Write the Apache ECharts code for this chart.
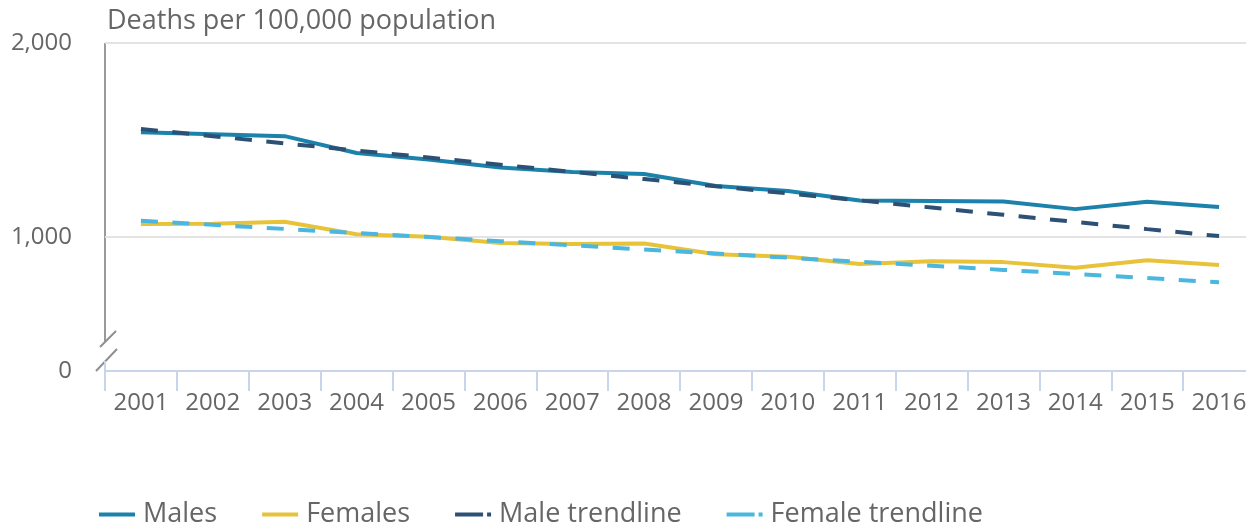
<!DOCTYPE html>
<html>
<head>
<meta charset="utf-8">
<script src="https://cdn.jsdelivr.net/npm/echarts@6/dist/echarts.min.js"></script>
<style>
  html, body { margin: 0; padding: 0; background: #fff; }
  #main { width: 1246px; height: 522px; }
</style>
</head>
<body>
<div id="main"></div>
<script>
// data
var years = ['2001', '2002', '2003', '2004', '2005', '2006', '2007', '2008',
  '2009', '2010', '2011', '2012', '2013', '2014', '2015', '2016']
var males = [1540, 1530, 1520, 1433, 1400, 1358, 1335, 1325, 1263, 1237, 1188, 1186, 1183, 1144, 1182, 1155]
var females = [1067, 1069, 1079, 1015, 1002, 969, 964, 967, 912, 899, 861, 876, 871, 842, 881, 856]
var maleTrend = [1557, 1520, 1483, 1446, 1410, 1373, 1336, 1299, 1262, 1225, 1189, 1152, 1115, 1078, 1041, 1005]
var femaleTrend = [1084, 1063, 1042, 1021, 1000, 979, 958, 936, 915, 894, 873, 852, 831, 810, 789, 767]
var yTicks = [1000, 2000]
// bottom of the broken axis, shown as 0
var yBottom = 310

var textColor = '#666666'
var font = 'Open Sans'

var myChart = echarts.init(document.getElementById('main'))

var solidIcon = 'path://M0,0H36V4H0Z'
var dashIcon = 'path://M0,0H28V4H0Z M32,0H36V4H32Z'

var option = {
  animation: false,
  textStyle: { fontFamily: font },
  title: {
    text: 'Deaths per 100,000 population',
    left: 102,
    top: 3,
    textStyle: { fontSize: 27, fontWeight: 'normal', color: textColor, fontFamily: font }
  },
  legend: {
    left: 94,
    top: 496,
    itemWidth: 36,
    itemHeight: 4,
    itemGap: 45,
    textStyle: { fontSize: 27, color: textColor, fontFamily: font, padding: [0, 0, 0, 3] },
    data: [
      { name: 'Males', icon: solidIcon },
      { name: 'Females', icon: solidIcon },
      { name: 'Male trendline', icon: dashIcon },
      { name: 'Female trendline', icon: dashIcon }
    ]
  },
  grid: { left: 105, width: 1150, top: 43, bottom: 151, outerBoundsMode: 'none' },
  xAxis: {
    type: 'category',
    data: years,
    boundaryGap: true,
    axisLine: { lineStyle: { color: '#c9d5ea', width: 2 } },
    axisTick: { show: true, length: 20, interval: 0, lineStyle: { color: '#c9d5ea', width: 2 } },
    axisLabel: { interval: 0, fontSize: 24, color: textColor, margin: 20, fontFamily: font }
  },
  yAxis: {
    type: 'value',
    min: yBottom,
    max: 2000,
    axisLine: { show: false },
    axisTick: { show: false },
    splitLine: { show: false },
    axisLabel: {
      customValues: [yBottom].concat(yTicks),
      fontSize: 24,
      color: textColor,
      margin: 33,
      fontFamily: font,
      formatter: function (v) {
        if (v === yBottom) return '0'
        return v.toLocaleString('en-US')
      }
    }
  },
  series: [
    {
      name: 'Males',
      type: 'line',
      data: males,
      symbol: 'none',
      z: 3,
      lineStyle: { color: '#1b82ab', width: 4 },
      itemStyle: { color: '#1b82ab' },
      markLine: {
        silent: true,
        symbol: 'none',
        label: { show: false },
        lineStyle: { color: '#e3e3e3', width: 2, type: 'solid' },
        data: yTicks.map(function (v) { return { yAxis: v } }),
        z: 1
      }
    },
    {
      name: 'Females',
      type: 'line',
      data: females,
      symbol: 'none',
      z: 3,
      lineStyle: { color: '#e8c33a', width: 4 },
      itemStyle: { color: '#e8c33a' }
    },
    {
      name: 'Male trendline',
      type: 'line',
      data: maleTrend,
      symbol: 'none',
      z: 4,
      lineStyle: { color: '#2d5075', width: 4, type: [17, 14.5] },
      itemStyle: { color: '#2d5075' }
    },
    {
      name: 'Female trendline',
      type: 'line',
      data: femaleTrend,
      symbol: 'none',
      z: 4,
      lineStyle: { color: '#4bb6de', width: 4, type: [17, 14.5] },
      itemStyle: { color: '#4bb6de' }
    }
  ],
  // y axis line with the break marks
  graphic: [
    { type: 'line', shape: { x1: 105, y1: 43, x2: 105, y2: 341 }, style: { stroke: '#9a9a9a', lineWidth: 2 } },
    { type: 'line', shape: { x1: 100, y1: 347, x2: 116, y2: 331 }, style: { stroke: '#8f8f8f', lineWidth: 2 } },
    { type: 'line', shape: { x1: 96, y1: 371, x2: 117, y2: 349 }, style: { stroke: '#8f8f8f', lineWidth: 2 } },
    { type: 'line', shape: { x1: 105, y1: 361, x2: 105, y2: 371 }, style: { stroke: '#c9d5ea', lineWidth: 2 } }
  ]
}

myChart.setOption(option)
</script>
</body>
</html>
